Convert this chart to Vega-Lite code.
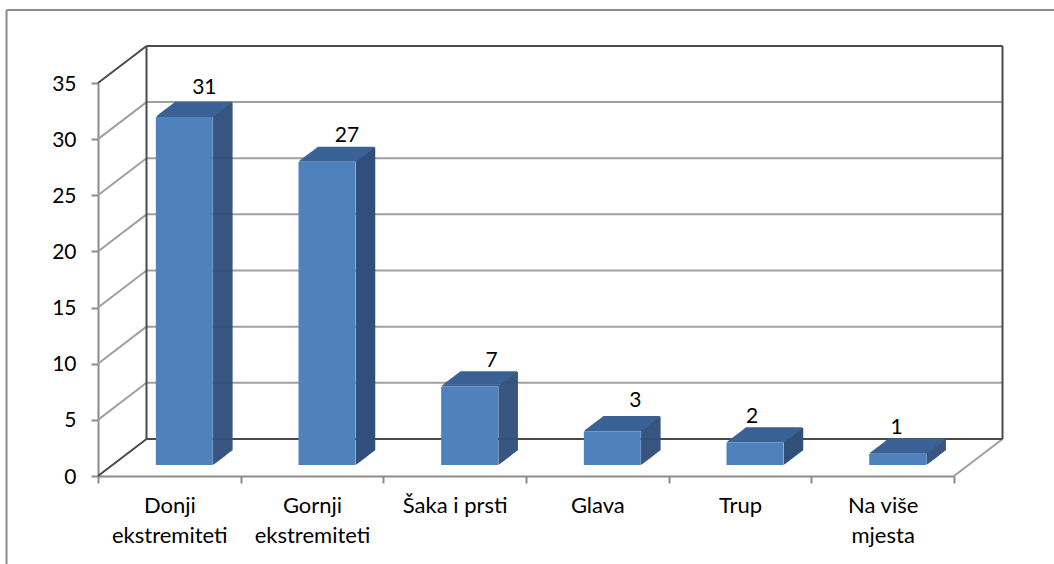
{"$schema":"https://vega.github.io/schema/vega-lite/v6.json","autosize":{"type":"none"},"padding":{"left":98,"top":83,"right":100,"bottom":88},"width":856,"height":393,"background":"#ffffff","view":{"stroke":null},"config":{"font":"Lato","text":{"font":"Lato"},"tick":{"opacity":1},"axisY":{"labelFont":"Lato","labelFontSize":21,"labelColor":"#000000","labelPadding":15,"labelOffset":1,"domainColor":"#8c8c8c","domainWidth":2,"tickColor":"#8c8c8c","tickWidth":2,"tickSize":7}},"resolve":{"scale":{"x":"independent"},"axis":{"x":"independent"}},
"datasets":{"frame":[
{"tone":"border","x":-0.641,"y":41.5,"x2":-0.641,"y2":-10},
{"tone":"border","x":-0.641,"y":41.5,"x2":7,"y2":41.5},
{"tone":"grid","x":0.34,"y":8.3,"x2":6.34,"y2":8.3},
{"tone":"grid","x":0.34,"y":13.3,"x2":6.34,"y2":13.3},
{"tone":"grid","x":0.34,"y":18.3,"x2":6.34,"y2":18.3},
{"tone":"grid","x":0.34,"y":23.3,"x2":6.34,"y2":23.3},
{"tone":"grid","x":0.34,"y":28.3,"x2":6.34,"y2":28.3},
{"tone":"grid","x":0.34,"y":33.3,"x2":6.34,"y2":33.3},
{"tone":"grid","x":0,"y":5,"x2":0.34,"y2":8.3},
{"tone":"grid","x":0,"y":10,"x2":0.34,"y2":13.3},
{"tone":"grid","x":0,"y":15,"x2":0.34,"y2":18.3},
{"tone":"grid","x":0,"y":20,"x2":0.34,"y2":23.3},
{"tone":"grid","x":0,"y":25,"x2":0.34,"y2":28.3},
{"tone":"grid","x":0,"y":30,"x2":0.34,"y2":33.3},
{"tone":"grid","x":6,"y":0,"x2":6.34,"y2":3.3},
{"tone":"dark","x":0,"y":0,"x2":0.34,"y2":3.3},
{"tone":"dark","x":0,"y":35,"x2":0.34,"y2":38.3},
{"tone":"dark","x":0.34,"y":3.3,"x2":0.34,"y2":38.3},
{"tone":"dark","x":0.34,"y":38.3,"x2":6.34,"y2":38.3},
{"tone":"dark","x":6.34,"y":3.3,"x2":6.34,"y2":38.3},
{"tone":"dark","x":0.34,"y":3.3,"x2":6.34,"y2":3.3}
]},
"layer":[
{"data":{"name":"frame"},"transform":[{"filter":"datum.tone=='border'"}],"mark":{"type":"rule","color":"#8c8c8c","strokeWidth":2,"clip":false},"encoding":{"x":{"field":"x","type":"quantitative","scale":{"domain":[0,6]},"axis":null},"x2":{"field":"x2"},"y":{"field":"y","type":"quantitative","scale":{"domain":[0,35]},"axis":{"title":null,"values":[0,5,10,15,20,25,30,35],"grid":false}},"y2":{"field":"y2"}}},
{"data":{"name":"frame"},"transform":[{"filter":"datum.tone=='grid'"}],"mark":{"type":"rule","color":"#a0a0a0","strokeWidth":2},"encoding":{"x":{"field":"x","type":"quantitative","scale":{"domain":[0,6]},"axis":null},"x2":{"field":"x2"},"y":{"field":"y","type":"quantitative","scale":{"domain":[0,35]},"axis":{"title":null,"values":[0,5,10,15,20,25,30,35],"grid":false}},"y2":{"field":"y2"}}},
{"data":{"name":"frame"},"transform":[{"filter":"datum.tone=='dark'"}],"mark":{"type":"rule","color":"#4a4a4a","strokeWidth":2},"encoding":{"x":{"field":"x","type":"quantitative","scale":{"domain":[0,6]},"axis":null},"x2":{"field":"x2"},"y":{"field":"y","type":"quantitative","scale":{"domain":[0,35]},"axis":{"title":null,"values":[0,5,10,15,20,25,30,35],"grid":false}},"y2":{"field":"y2"}}},
{"data":{"values":[{"part":"Donji ekstremiteti","count":31},{"part":"Gornji ekstremiteti","count":27},{"part":"Šaka i prsti","count":7},{"part":"Glava","count":3},{"part":"Trup","count":2},{"part":"Na više mjesta","count":1}]},
"encoding":{"x":{"field":"part","type":"nominal","sort":null,"scale":{"paddingInner":0,"paddingOuter":0},"axis":{"title":null,"labelAngle":0,"tickBand":"extent","labelFont":"Lato","labelFontSize":22,"labelColor":"#000000","labelPadding":12,"labelLineHeight":30,"labelBaseline":"top","domainColor":"#8c8c8c","domainWidth":2,"tickColor":"#8c8c8c","tickWidth":2,"tickSize":7,"labelExpr":"datum.label=='Donji ekstremiteti'?['Donji','ekstremiteti']:datum.label=='Gornji ekstremiteti'?['Gornji','ekstremiteti']:datum.label=='Na više mjesta'?['Na više','mjesta']:datum.label"}},"y":{"field":"count","type":"quantitative","scale":{"domain":[0,35]},"axis":{"title":null,"values":[0,5,10,15,20,25,30,35],"grid":false}}},
"layer":[
{"mark":{"type":"tick","xOffset":34,"yOffset":-25.44,"size":57,"thickness":1.5,"color":"#3b6296"}},
{"mark":{"type":"rule","xOffset":62.5,"yOffset":-25.44,"y2Offset":-25.44,"strokeWidth":1.5,"color":"#31507b"},"encoding":{"y2":{"datum":0}}},
{"mark":{"type":"tick","xOffset":33,"yOffset":-24.68,"size":57,"thickness":1.5,"color":"#3b6296"}},
{"mark":{"type":"rule","xOffset":61.5,"yOffset":-24.68,"y2Offset":-24.68,"strokeWidth":1.5,"color":"#31507b"},"encoding":{"y2":{"datum":0}}},
{"mark":{"type":"tick","xOffset":32,"yOffset":-23.92,"size":57,"thickness":1.5,"color":"#3b6296"}},
{"mark":{"type":"rule","xOffset":60.5,"yOffset":-23.92,"y2Offset":-23.92,"strokeWidth":1.5,"color":"#31507b"},"encoding":{"y2":{"datum":0}}},
{"mark":{"type":"tick","xOffset":31,"yOffset":-23.16,"size":57,"thickness":1.5,"color":"#3b6296"}},
{"mark":{"type":"rule","xOffset":59.5,"yOffset":-23.16,"y2Offset":-23.16,"strokeWidth":1.5,"color":"#31507b"},"encoding":{"y2":{"datum":0}}},
{"mark":{"type":"tick","xOffset":30,"yOffset":-22.4,"size":57,"thickness":1.5,"color":"#3b6296"}},
{"mark":{"type":"rule","xOffset":58.5,"yOffset":-22.4,"y2Offset":-22.4,"strokeWidth":1.5,"color":"#31507b"},"encoding":{"y2":{"datum":0}}},
{"mark":{"type":"tick","xOffset":29,"yOffset":-21.64,"size":57,"thickness":1.5,"color":"#3b6296"}},
{"mark":{"type":"rule","xOffset":57.5,"yOffset":-21.64,"y2Offset":-21.64,"strokeWidth":1.5,"color":"#31507b"},"encoding":{"y2":{"datum":0}}},
{"mark":{"type":"tick","xOffset":28,"yOffset":-20.88,"size":57,"thickness":1.5,"color":"#3b6296"}},
{"mark":{"type":"rule","xOffset":56.5,"yOffset":-20.88,"y2Offset":-20.88,"strokeWidth":1.5,"color":"#31507b"},"encoding":{"y2":{"datum":0}}},
{"mark":{"type":"tick","xOffset":27,"yOffset":-20.12,"size":57,"thickness":1.5,"color":"#3b6296"}},
{"mark":{"type":"rule","xOffset":55.5,"yOffset":-20.12,"y2Offset":-20.12,"strokeWidth":1.5,"color":"#31507b"},"encoding":{"y2":{"datum":0}}},
{"mark":{"type":"tick","xOffset":26,"yOffset":-19.36,"size":57,"thickness":1.5,"color":"#3b6296"}},
{"mark":{"type":"rule","xOffset":54.5,"yOffset":-19.36,"y2Offset":-19.36,"strokeWidth":1.5,"color":"#31507b"},"encoding":{"y2":{"datum":0}}},
{"mark":{"type":"tick","xOffset":25,"yOffset":-18.6,"size":57,"thickness":1.5,"color":"#3b6296"}},
{"mark":{"type":"rule","xOffset":53.5,"yOffset":-18.6,"y2Offset":-18.6,"strokeWidth":1.5,"color":"#31507b"},"encoding":{"y2":{"datum":0}}},
{"mark":{"type":"tick","xOffset":24,"yOffset":-17.84,"size":57,"thickness":1.5,"color":"#3b6296"}},
{"mark":{"type":"rule","xOffset":52.5,"yOffset":-17.84,"y2Offset":-17.84,"strokeWidth":1.5,"color":"#31507b"},"encoding":{"y2":{"datum":0}}},
{"mark":{"type":"tick","xOffset":23,"yOffset":-17.08,"size":57,"thickness":1.5,"color":"#3b6296"}},
{"mark":{"type":"rule","xOffset":51.5,"yOffset":-17.08,"y2Offset":-17.08,"strokeWidth":1.5,"color":"#31507b"},"encoding":{"y2":{"datum":0}}},
{"mark":{"type":"tick","xOffset":22,"yOffset":-16.32,"size":57,"thickness":1.5,"color":"#3b6296"}},
{"mark":{"type":"rule","xOffset":50.5,"yOffset":-16.32,"y2Offset":-16.32,"strokeWidth":1.5,"color":"#31507b"},"encoding":{"y2":{"datum":0}}},
{"mark":{"type":"tick","xOffset":21,"yOffset":-15.56,"size":57,"thickness":1.5,"color":"#3b6296"}},
{"mark":{"type":"rule","xOffset":49.5,"yOffset":-15.56,"y2Offset":-15.56,"strokeWidth":1.5,"color":"#31507b"},"encoding":{"y2":{"datum":0}}},
{"mark":{"type":"tick","xOffset":20,"yOffset":-14.8,"size":57,"thickness":1.5,"color":"#3b6296"}},
{"mark":{"type":"rule","xOffset":48.5,"yOffset":-14.8,"y2Offset":-14.8,"strokeWidth":1.5,"color":"#31507b"},"encoding":{"y2":{"datum":0}}},
{"mark":{"type":"tick","xOffset":19,"yOffset":-14.04,"size":57,"thickness":1.5,"color":"#3b6296"}},
{"mark":{"type":"rule","xOffset":47.5,"yOffset":-14.04,"y2Offset":-14.04,"strokeWidth":1.5,"color":"#31507b"},"encoding":{"y2":{"datum":0}}},
{"mark":{"type":"tick","xOffset":18,"yOffset":-13.28,"size":57,"thickness":1.5,"color":"#3b6296"}},
{"mark":{"type":"rule","xOffset":46.5,"yOffset":-13.28,"y2Offset":-13.28,"strokeWidth":1.5,"color":"#31507b"},"encoding":{"y2":{"datum":0}}},
{"mark":{"type":"tick","xOffset":17,"yOffset":-12.52,"size":57,"thickness":1.5,"color":"#3b6296"}},
{"mark":{"type":"rule","xOffset":45.5,"yOffset":-12.52,"y2Offset":-12.52,"strokeWidth":1.5,"color":"#31507b"},"encoding":{"y2":{"datum":0}}},
{"mark":{"type":"tick","xOffset":16,"yOffset":-11.76,"size":57,"thickness":1.5,"color":"#3b6296"}},
{"mark":{"type":"rule","xOffset":44.5,"yOffset":-11.76,"y2Offset":-11.76,"strokeWidth":1.5,"color":"#31507b"},"encoding":{"y2":{"datum":0}}},
{"mark":{"type":"bar","width":57,"xOffset":15,"yOffset":-11,"y2Offset":-11,"color":"#4f81bd"}},
{"transform":[{"filter":"datum.count==31"}],"mark":{"type":"text","dx":35,"dy":-40,"fontSize":21,"color":"#000000","font":"Lato"},"encoding":{"text":{"field":"count","type":"quantitative"}}},
{"transform":[{"filter":"datum.count==27"}],"mark":{"type":"text","dx":35,"dy":-37,"fontSize":21,"color":"#000000","font":"Lato"},"encoding":{"text":{"field":"count","type":"quantitative"}}},
{"transform":[{"filter":"datum.count==7"}],"mark":{"type":"text","dx":37,"dy":-36,"fontSize":21,"color":"#000000","font":"Lato"},"encoding":{"text":{"field":"count","type":"quantitative"}}},
{"transform":[{"filter":"datum.count==3"}],"mark":{"type":"text","dx":38,"dy":-41,"fontSize":21,"color":"#000000","font":"Lato"},"encoding":{"text":{"field":"count","type":"quantitative"}}},
{"transform":[{"filter":"datum.count==2"}],"mark":{"type":"text","dx":12,"dy":-37,"fontSize":21,"color":"#000000","font":"Lato"},"encoding":{"text":{"field":"count","type":"quantitative"}}},
{"transform":[{"filter":"datum.count==1"}],"mark":{"type":"text","dx":14,"dy":-37,"fontSize":21,"color":"#000000","font":"Lato"},"encoding":{"text":{"field":"count","type":"quantitative"}}}
]}
]}
